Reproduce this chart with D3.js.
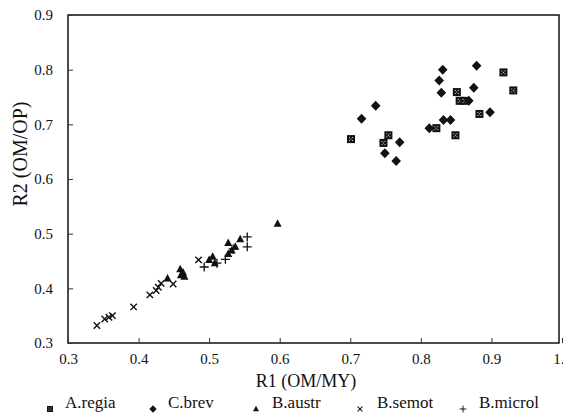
<!DOCTYPE html>
<html>
<head>
<meta charset="utf-8">
<script src="https://cdn.jsdelivr.net/npm/d3@7"></script>
<style>
  html, body { margin: 0; padding: 0; background: #fff; }
  svg text { font-family: "Liberation Serif", "Times New Roman", Times, "DejaVu Serif", serif; fill: #111; }
</style>
</head>
<body>
<svg id="chart" width="563" height="415"></svg>
<script>
// --- Data (R1, R2) ---
const aregia = [
  [0.917, 0.795], [0.931, 0.762], [0.851, 0.759], [0.855, 0.743], [0.862, 0.743],
  [0.883, 0.719], [0.822, 0.693], [0.849, 0.680], [0.701, 0.673], [0.754, 0.680],
  [0.747, 0.666]
];
const cbrev = [
  [0.831, 0.800], [0.879, 0.807], [0.826, 0.780], [0.829, 0.758], [0.875, 0.767],
  [0.868, 0.743], [0.898, 0.722], [0.832, 0.708], [0.842, 0.708], [0.812, 0.693],
  [0.736, 0.734], [0.716, 0.710], [0.770, 0.667], [0.749, 0.647], [0.765, 0.633]
];
const baustr = [
  [0.441, 0.418], [0.459, 0.435], [0.463, 0.429], [0.465, 0.421], [0.460, 0.424],
  [0.500, 0.452], [0.505, 0.458], [0.508, 0.446], [0.527, 0.483], [0.544, 0.490],
  [0.537, 0.476], [0.532, 0.469], [0.527, 0.463], [0.597, 0.518]
];
const bsemot = [
  [0.341, 0.332], [0.352, 0.344], [0.358, 0.347], [0.363, 0.350], [0.393, 0.366],
  [0.416, 0.388], [0.425, 0.396], [0.428, 0.402], [0.432, 0.409], [0.449, 0.408],
  [0.485, 0.452]
];
const bmicrol = [
  [0.554, 0.494], [0.554, 0.476], [0.493, 0.439], [0.523, 0.453], [0.534, 0.472],
  [0.511, 0.446]
];
const xTicks = [0.3, 0.4, 0.5, 0.6, 0.7, 0.8, 0.9, 1.0];
const yTicks = [0.3, 0.4, 0.5, 0.6, 0.7, 0.8, 0.9];
const seriesNames = ["A.regia", "C.brev", "B.austr", "B.semot", "B.microl"];

const FONT = '"Liberation Serif", "Times New Roman", Times, "DejaVu Serif", serif';

// --- Layout ---
const svg = d3.select("#chart");
const x = d3.scaleLinear().domain([0.3, 1.0]).range([68, 562]);
const y = d3.scaleLinear().domain([0.3, 0.9]).range([343, 15]);

// draw a marker of given kind centred at (cx, cy); k scales it (legend uses smaller ones)
function drawMarker(g, kind, cx, cy, k = 1) {
  const m = g.append("g").attr("transform", `translate(${cx},${cy}) scale(${k})`);
  if (kind === "square") {
    m.append("rect").attr("x", -4).attr("y", -4).attr("width", 8).attr("height", 8).attr("fill", "#111");
    [[-1.5, -1.5], [1.5, -1.5], [0, 0], [-1.5, 1.5], [1.5, 1.5]].forEach(p =>
      m.append("rect").attr("x", p[0] - 0.5).attr("y", p[1] - 0.5).attr("width", 1).attr("height", 1).attr("fill", "#ddd"));
  } else if (kind === "diamond") {
    m.append("path").attr("d", "M0,-5L4.8,0L0,5L-4.8,0Z").attr("fill", "#111");
  } else if (kind === "triangle") {
    m.append("path").attr("d", "M0,-4.5L4,3L-4,3Z").attr("fill", "#111");
  } else if (kind === "times") {
    m.append("path").attr("d", "M-3.2,-3.2L3.2,3.2M-3.2,3.2L3.2,-3.2")
      .attr("stroke", "#111").attr("stroke-width", 1.4).attr("fill", "none");
  } else if (kind === "plus") {
    m.append("path").attr("d", "M-4.5,0L4.5,0M0,-4.5L0,4.5")
      .attr("stroke", "#111").attr("stroke-width", 1.3).attr("fill", "none");
  }
}

// --- Frame ---
svg.append("rect")
  .attr("x", x(0.3)).attr("y", y(0.9))
  .attr("width", 559 - x(0.3)).attr("height", y(0.3) - y(0.9))
  .attr("fill", "none").attr("stroke", "#111").attr("stroke-width", 1.5);

// --- Axes (ticks point inward) ---
const xAxis = svg.append("g").attr("transform", `translate(0,${y(0.3)})`)
  .call(d3.axisBottom(x).tickValues(xTicks).tickSize(-5).tickPadding(10).tickFormat(d3.format(".1f")));
xAxis.select(".domain").remove();
xAxis.selectAll("line").attr("stroke", "#333");
xAxis.selectAll("text").style("font-size", "15px").style("font-family", FONT).attr("fill", "#111");

const yAxis = svg.append("g").attr("transform", `translate(${x(0.3)},0)`)
  .call(d3.axisLeft(y).tickValues(yTicks).tickSize(-5).tickPadding(15).tickFormat(d3.format(".1f")));
yAxis.select(".domain").remove();
yAxis.selectAll("line").attr("stroke", "#333");
yAxis.selectAll("text").style("font-size", "15px").style("font-family", FONT).attr("fill", "#111");

// --- Axis titles ---
svg.append("text").attr("x", 306).attr("y", 387).attr("text-anchor", "middle")
  .style("font-size", "18px").style("font-family", FONT).text("R1 (OM/MY)");
svg.append("text").attr("transform", "translate(27,154) rotate(-90)").attr("text-anchor", "middle")
  .style("font-size", "20px").style("font-family", FONT).text("R2 (OM/OP)");

// --- Points ---
const series = [
  { data: aregia, kind: "square" },
  { data: cbrev, kind: "diamond" },
  { data: baustr, kind: "triangle" },
  { data: bsemot, kind: "times" },
  { data: bmicrol, kind: "plus" }
];
const pts = svg.append("g");
series.forEach(s => s.data.forEach(d => drawMarker(pts, s.kind, x(d[0]), y(d[1]))));

// --- Legend ---
const legendSym = [50, 153, 256, 360, 463];
const legendTxt = [65, 168, 272, 377, 479];
const legend = svg.append("g");
series.forEach((s, i) => {
  drawMarker(legend, s.kind, legendSym[i], 409, 0.75);
  legend.append("text").attr("x", legendTxt[i]).attr("y", 408)
    .style("font-size", "17px").style("font-family", FONT).text(seriesNames[i]);
});
</script>
</body>
</html>
